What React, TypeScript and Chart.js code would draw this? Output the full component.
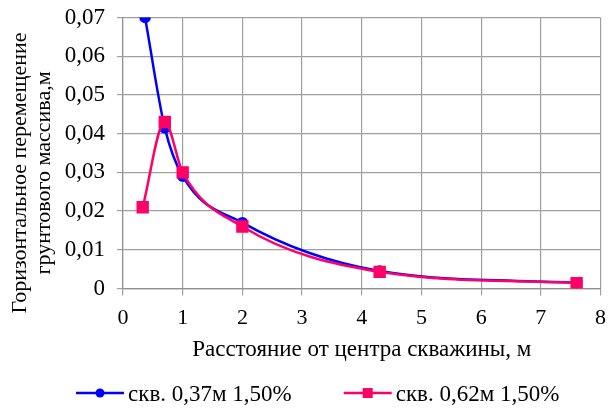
import React, { useEffect, useRef } from "react";
import { Chart, registerables } from "chart.js";

Chart.register(...registerables);

const seriesNames = ["скв. 0,37м 1,50%", "скв. 0,62м 1,50%"];
const seriesColors = ["#0000ff", "#ff0066"];
const blueX = [0.37, 0.7, 1, 2, 4.3, 7.6];
const blueY = [0.07, 0.0415, 0.029, 0.017, 0.0045, 0.0015];
const pinkX = [0.33, 0.7, 1, 2, 4.3, 7.6];
const pinkY = [0.021, 0.043, 0.03, 0.016, 0.0043, 0.0014];
const yTitle = ["Горизонтальное перемещение", "грунтового массива,м"];
const xTitle = "Расстояние от центра скважины, м";

const FONT = "'Liberation Serif', 'Times New Roman', serif";
Chart.defaults.font.family = FONT;

const decor = {
  id: "decor",
  afterDraw(chart: any) {
    const ctx = chart.ctx as CanvasRenderingContext2D;
    const area = chart.chartArea;
    ctx.save();
    // Y axis title (two rotated lines)
    ctx.fillStyle = "#000";
    ctx.font = `22px ${FONT}`;
    ctx.textAlign = "center";
    ctx.textBaseline = "alphabetic";
    const cy = (area.top + area.bottom) / 2 + 20;
    const baselines = [26, 50];
    yTitle.forEach((line, i) => {
      ctx.save();
      ctx.translate(baselines[i], cy);
      ctx.rotate(-Math.PI / 2);
      ctx.fillText(line, 0, 0);
      ctx.restore();
    });
    // Legend
    ctx.font = `23px ${FONT}`;
    ctx.textAlign = "left";
    let x = 76;
    const ly = 393;
    seriesNames.forEach((name, i) => {
      const c = seriesColors[i];
      ctx.strokeStyle = c;
      ctx.fillStyle = c;
      ctx.lineWidth = 2.5;
      ctx.beginPath();
      ctx.moveTo(x, ly);
      ctx.lineTo(x + 48, ly);
      ctx.stroke();
      if (i === 0) {
        ctx.beginPath();
        ctx.arc(x + 24, ly, 4.5, 0, Math.PI * 2);
        ctx.fill();
      } else {
        ctx.fillRect(x + 19, ly - 5, 10, 10);
      }
      ctx.fillStyle = "#000";
      ctx.fillText(name, x + 52, 401);
      x += 52 + ctx.measureText(name).width + 52;
    });
    ctx.restore();
  },
};

export default function App() {
  const ref = useRef<HTMLCanvasElement>(null);
  useEffect(() => {
    const chart = new Chart(ref.current!, {
      type: "line",
      data: {
        datasets: [
          {
            label: seriesNames[0],
            data: blueX.map((x, i) => ({ x, y: blueY[i] })),
            borderColor: seriesColors[0],
            backgroundColor: seriesColors[0],
            borderWidth: 2.5,
            pointStyle: "circle",
            pointRadius: 4.5,
            cubicInterpolationMode: "monotone",
            order: 1,
          },
          {
            label: seriesNames[1],
            data: pinkX.map((x, i) => ({ x, y: pinkY[i] })),
            borderColor: seriesColors[1],
            backgroundColor: seriesColors[1],
            borderWidth: 2.5,
            pointStyle: "rect",
            pointRadius: 7,
            cubicInterpolationMode: "monotone",
            order: 0,
          },
        ],
      },
      options: {
        animation: false,
        responsive: true,
        maintainAspectRatio: false,
        layout: { padding: { top: 17.5, right: 6, left: 0, bottom: 44 } },
        plugins: {
          tooltip: { enabled: false },
          legend: { display: false },
        },
        scales: {
          x: {
            type: "linear",
            min: 0,
            max: 8,
            afterFit: (s: any) => {
              s.height = 75.5;
              s.paddingLeft = 0;
              s.paddingRight = 0;
            },
            ticks: { stepSize: 1, font: { family: FONT, size: 22 }, color: "#000", padding: 10 },
            grid: { color: "#a0a0a0", lineWidth: 1.2, tickLength: 7 },
            border: { color: "#909090", width: 1.2 },
            title: { display: true, text: xTitle, font: { family: FONT, size: 23 }, color: "#000", padding: { top: 0, bottom: 0 } },
          },
          y: {
            min: 0,
            max: 0.07,
            afterFit: (s: any) => {
              s.width = 123;
              s.paddingTop = 0;
              s.paddingBottom = 0;
            },
            ticks: {
              stepSize: 0.01,
              font: { family: FONT, size: 23 },
              color: "#000",
              padding: 12,
              callback: (v: any) => (Number(v) === 0 ? "0" : Number(v).toFixed(2).replace(".", ",")),
            },
            grid: { color: "#a0a0a0", lineWidth: 1.2, tickLength: 6 },
            border: { color: "#909090", width: 1.2 },
          },
        },
      },
      plugins: [decor],
    });
    return () => chart.destroy();
  }, []);
  return (
    <div style={{ position: "fixed", left: 0, top: 0, width: 610, height: 408, background: "#fff" }}>
      <canvas ref={ref} />
    </div>
  );
}
